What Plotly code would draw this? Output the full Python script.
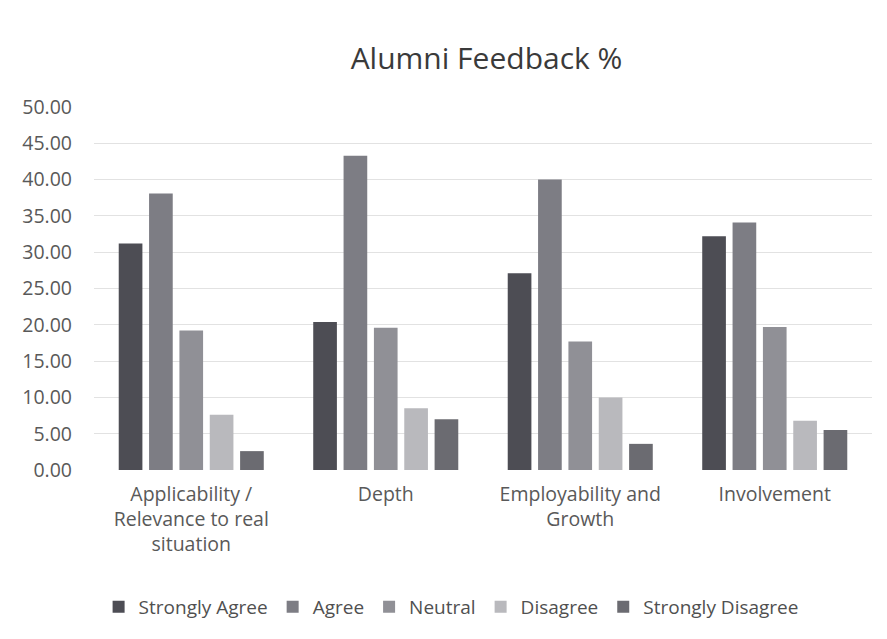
import plotly.graph_objects as go

categories = ["Applicability /<br>Relevance to real<br>situation", "Depth",
              "Employability and<br>Growth", "Involvement"]
series_names = ["Strongly Agree", "Agree", "Neutral", "Disagree", "Strongly Disagree"]
strongly_agree = [31.2, 20.4, 27.1, 32.2]
agree = [38.1, 43.3, 40.0, 34.1]
neutral = [19.2, 19.6, 17.7, 19.7]
disagree = [7.6, 8.5, 10.0, 6.8]
strongly_disagree = [2.6, 7.0, 3.6, 5.5]
colors = ["#4d4d54", "#7d7d84", "#909096", "#b9b9bd", "#6b6b71"]

values = [strongly_agree, agree, neutral, disagree, strongly_disagree]

fig = go.Figure()
for name, vals, c in zip(series_names, values, colors):
    fig.add_trace(go.Bar(x=categories, y=vals, name=name, marker_color=c,
                         marker_line_width=0))

font_family = "'Open Sans', sans-serif"
fig.update_layout(
    width=887, height=639,
    paper_bgcolor="white", plot_bgcolor="white",
    margin=dict(l=86, r=23, t=99, b=177),
    title=dict(text="Alumni Feedback %", xref="container", x=0.5395, xanchor="center",
               yref="container", y=1 - 50 / 639, yanchor="middle",
               font=dict(family=font_family, size=30, color="#3a3a3a")),
    barmode="group", bargap=0.22, bargroupgap=0.22,
    font=dict(family=font_family, color="#595959", size=19),
    legend=dict(orientation="h", x=0.459, xanchor="center", y=-0.377, yanchor="middle",
                font=dict(size=19, color="#505050"), itemwidth=30, traceorder="normal"),
    xaxis=dict(showgrid=False, showline=False, ticks="", tickfont=dict(size=19.5),
               tickangle=0, ticklabelstandoff=10),
    yaxis=dict(range=[0, 50], dtick=5, tickformat=".2f", gridcolor="#e2e2e2",
               zeroline=False, showline=False, tickfont=dict(size=19.5), ticklen=0,
               ticklabelstandoff=21),
)
fig.write_html("out.html")
